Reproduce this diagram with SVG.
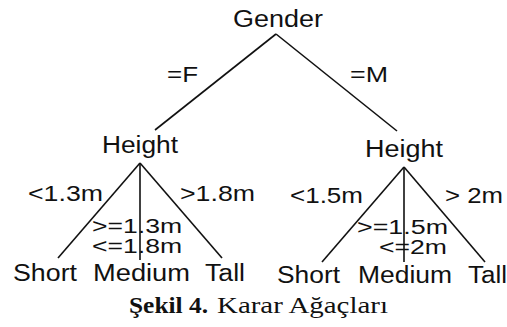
<svg xmlns="http://www.w3.org/2000/svg" width="507" height="327" viewBox="0 0 507 327">
<style>
.t{font-family:"Liberation Sans",Arial,sans-serif;font-size:22px;fill:#111}
.s{font-family:"Liberation Sans",Arial,sans-serif;font-size:20px;fill:#111}
.n{font-family:"Liberation Sans",Arial,sans-serif;font-size:23px;fill:#111}
.e{stroke:#111;stroke-width:1.6;fill:none}
.c{font-family:"Liberation Serif","Times New Roman",serif;font-size:24px;fill:#111}
</style>
<rect width="507" height="327" fill="#fff"/>
<g id="edges">
<line class="e" x1="276" y1="34" x2="155" y2="130"/>
<line class="e" x1="276" y1="34" x2="397" y2="131"/>
<line class="e" x1="140" y1="163" x2="58" y2="258"/>
<line class="e" x1="140" y1="163" x2="140" y2="260"/>
<line class="e" x1="140" y1="163" x2="222" y2="258"/>
<line class="e" x1="404" y1="167" x2="322" y2="262"/>
<line class="e" x1="404" y1="167" x2="404" y2="262"/>
<line class="e" x1="404" y1="167" x2="485" y2="262"/>
<text class="t" x="167" y="82" textLength="31" lengthAdjust="spacingAndGlyphs">=F</text>
<text class="t" x="350" y="82" textLength="38" lengthAdjust="spacingAndGlyphs">=M</text>
<text class="t" x="28" y="201" textLength="75" lengthAdjust="spacingAndGlyphs">&lt;1.3m</text>
<text class="t" x="180" y="201" textLength="75" lengthAdjust="spacingAndGlyphs">&gt;1.8m</text>
<text class="s" x="92" y="233" textLength="90" lengthAdjust="spacingAndGlyphs">&gt;=1.3m</text>
<text class="s" x="92" y="253" textLength="90" lengthAdjust="spacingAndGlyphs">&lt;=1.8m</text>
<text class="t" x="290" y="203" textLength="73" lengthAdjust="spacingAndGlyphs">&lt;1.5m</text>
<text class="t" x="445" y="203" textLength="58" lengthAdjust="spacingAndGlyphs">&gt; 2m</text>
<text class="s" x="357" y="234" textLength="91" lengthAdjust="spacingAndGlyphs">&gt;=1.5m</text>
<text class="s" x="379" y="254" textLength="68" lengthAdjust="spacingAndGlyphs">&lt;=2m</text>
</g>
<g id="gender"><text class="n" x="233" y="27" textLength="90" lengthAdjust="spacingAndGlyphs">Gender</text></g>
<g id="height-f"><text class="n" x="102" y="153" textLength="76" lengthAdjust="spacingAndGlyphs">Height</text></g>
<g id="height-m"><text class="n" x="365" y="157" textLength="78" lengthAdjust="spacingAndGlyphs">Height</text></g>
<g id="short-f"><text class="n" x="13" y="281" textLength="64" lengthAdjust="spacingAndGlyphs">Short</text></g>
<g id="medium-f"><text class="n" x="93" y="281" textLength="97" lengthAdjust="spacingAndGlyphs">Medium</text></g>
<g id="tall-f"><text class="n" x="205" y="281" textLength="40" lengthAdjust="spacingAndGlyphs">Tall</text></g>
<g id="short-m"><text class="n" x="277" y="283" textLength="63" lengthAdjust="spacingAndGlyphs">Short</text></g>
<g id="medium-m"><text class="n" x="358" y="283" textLength="94" lengthAdjust="spacingAndGlyphs">Medium</text></g>
<g id="tall-m"><text class="n" x="468" y="283" textLength="39" lengthAdjust="spacingAndGlyphs">Tall</text></g>
<g id="caption">
<text class="c" x="129" y="313"><tspan font-weight="bold" textLength="79" lengthAdjust="spacingAndGlyphs">Şekil 4.</tspan><tspan x="217" textLength="171" lengthAdjust="spacingAndGlyphs">Karar Ağaçları</tspan></text>
</g>
</svg>
